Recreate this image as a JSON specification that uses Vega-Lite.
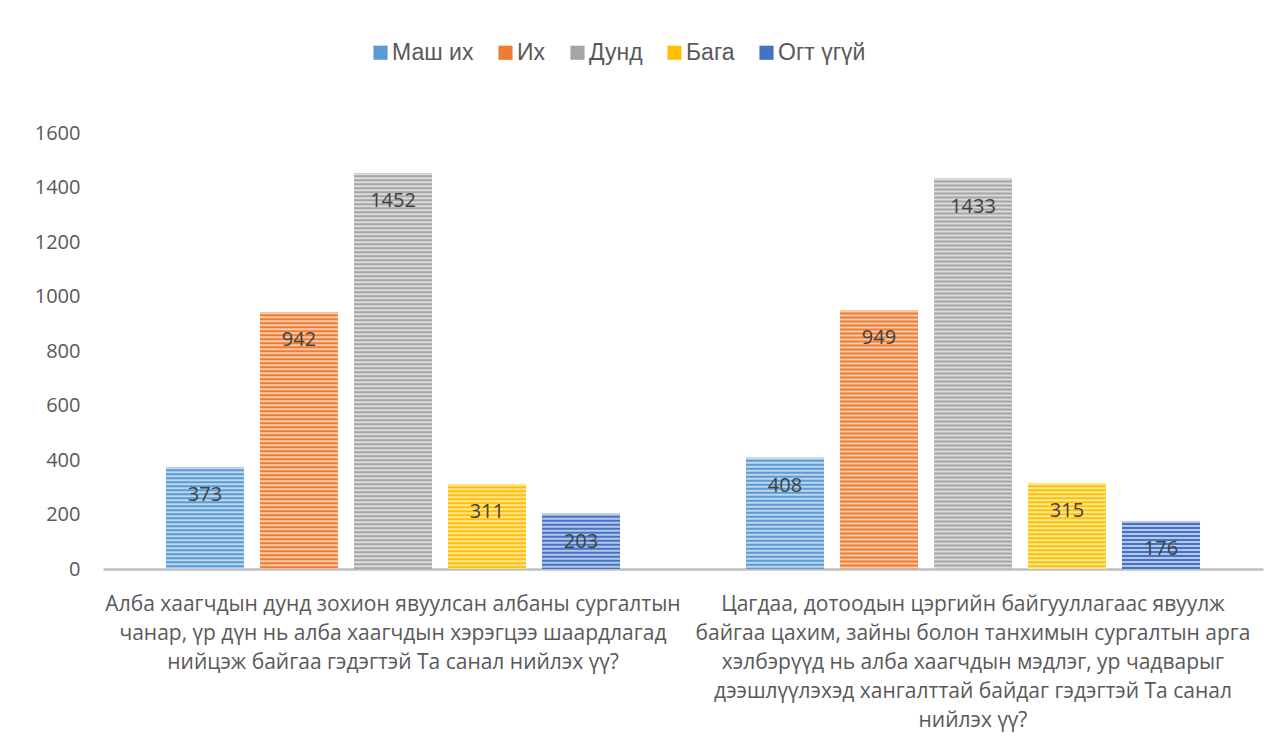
{
  "$schema": "https://vega.github.io/schema/vega-lite/v6.json",
  "autosize": {"type": "none"},
  "width": 1160,
  "height": 436,
  "padding": {"left": 103, "top": 133, "right": 24, "bottom": 176},
  "background": "white",
  "config": {"view": {"stroke": null}},
  "data": {
    "values": [
      {"question": "Алба хаагчдын дунд зохион явуулсан албаны сургалтын|чанар, үр дүн нь алба хаагчдын хэрэгцээ шаардлагад|нийцэж байгаа гэдэгтэй Та санал нийлэх үү?", "series": "Маш их", "value": 373},
      {"question": "Алба хаагчдын дунд зохион явуулсан албаны сургалтын|чанар, үр дүн нь алба хаагчдын хэрэгцээ шаардлагад|нийцэж байгаа гэдэгтэй Та санал нийлэх үү?", "series": "Их", "value": 942},
      {"question": "Алба хаагчдын дунд зохион явуулсан албаны сургалтын|чанар, үр дүн нь алба хаагчдын хэрэгцээ шаардлагад|нийцэж байгаа гэдэгтэй Та санал нийлэх үү?", "series": "Дунд", "value": 1452},
      {"question": "Алба хаагчдын дунд зохион явуулсан албаны сургалтын|чанар, үр дүн нь алба хаагчдын хэрэгцээ шаардлагад|нийцэж байгаа гэдэгтэй Та санал нийлэх үү?", "series": "Бага", "value": 311},
      {"question": "Алба хаагчдын дунд зохион явуулсан албаны сургалтын|чанар, үр дүн нь алба хаагчдын хэрэгцээ шаардлагад|нийцэж байгаа гэдэгтэй Та санал нийлэх үү?", "series": "Огт үгүй", "value": 203},
      {"question": "Цагдаа, дотоодын цэргийн байгууллагаас  явуулж|байгаа цахим, зайны болон танхимын сургалтын арга|хэлбэрүүд нь  алба хаагчдын мэдлэг, ур чадварыг|дээшлүүлэхэд хангалттай байдаг гэдэгтэй Та санал|нийлэх үү?", "series": "Маш их", "value": 408},
      {"question": "Цагдаа, дотоодын цэргийн байгууллагаас  явуулж|байгаа цахим, зайны болон танхимын сургалтын арга|хэлбэрүүд нь  алба хаагчдын мэдлэг, ур чадварыг|дээшлүүлэхэд хангалттай байдаг гэдэгтэй Та санал|нийлэх үү?", "series": "Их", "value": 949},
      {"question": "Цагдаа, дотоодын цэргийн байгууллагаас  явуулж|байгаа цахим, зайны болон танхимын сургалтын арга|хэлбэрүүд нь  алба хаагчдын мэдлэг, ур чадварыг|дээшлүүлэхэд хангалттай байдаг гэдэгтэй Та санал|нийлэх үү?", "series": "Дунд", "value": 1433},
      {"question": "Цагдаа, дотоодын цэргийн байгууллагаас  явуулж|байгаа цахим, зайны болон танхимын сургалтын арга|хэлбэрүүд нь  алба хаагчдын мэдлэг, ур чадварыг|дээшлүүлэхэд хангалттай байдаг гэдэгтэй Та санал|нийлэх үү?", "series": "Бага", "value": 315},
      {"question": "Цагдаа, дотоодын цэргийн байгууллагаас  явуулж|байгаа цахим, зайны болон танхимын сургалтын арга|хэлбэрүүд нь  алба хаагчдын мэдлэг, ур чадварыг|дээшлүүлэхэд хангалттай байдаг гэдэгтэй Та санал|нийлэх үү?", "series": "Огт үгүй", "value": 176}
    ]
  },
  "encoding": {
    "x": {
      "field": "question", "type": "nominal", "sort": null,
      "scale": {"paddingInner": 0, "paddingOuter": 0},
      "axis": {
        "title": null, "labelAngle": 0, "ticks": false,
        "domainColor": "#BFBFBF", "domainWidth": 2.5,
        "labelExpr": "split(datum.value, '|')",
        "labelFont": "Open Sans", "labelFontSize": 21, "labelColor": "#595959",
        "labelLineHeight": 29, "labelPadding": 24, "labelLimit": 2000,
        "labelAlign": "center", "labelBaseline": "top"
      }
    },
    "xOffset": {
      "field": "series", "type": "nominal", "sort": ["Маш их", "Их", "Дунд", "Бага", "Огт үгүй"],
      "scale": {"paddingInner": 0.17, "paddingOuter": 0.67}
    },
    "y": {
      "field": "value", "type": "quantitative",
      "scale": {"domain": [0, 1600], "nice": false},
      "axis": {
        "title": null, "values": [0, 200, 400, 600, 800, 1000, 1200, 1400, 1600],
        "format": "d",
        "grid": false, "domain": false, "ticks": false,
        "labelFont": "Open Sans", "labelFontSize": 20, "labelColor": "#595959",
        "labelPadding": 23
      }
    }
  },
  "layer": [
    {
      "mark": {"type": "bar"},
      "encoding": {
        "color": {
          "field": "series", "type": "nominal", "sort": ["Маш их", "Их", "Дунд", "Бага", "Огт үгүй"],
          "scale": {"domain": ["Маш их", "Их", "Дунд", "Бага", "Огт үгүй"], "range": ["#5B9BD5", "#ED7D31", "#A5A5A5", "#FFC000", "#4472C4"]},
          "legend": {
            "title": null, "orient": "none", "direction": "horizontal",
            "legendX": 266, "legendY": -92,
            "symbolType": "square", "symbolSize": 200, "symbolStrokeWidth": 0,
            "labelFont": "Liberation Sans", "labelFontSize": 23, "labelColor": "#595959",
            "labelOffset": 0, "columnPadding": 20, "labelLimit": 500
          }
        }
      }
    },
    {
      "mark": {"type": "rule", "strokeWidth": 78, "strokeDash": [2, 2], "strokeCap": "butt"},
      "encoding": {
        "y2": {"datum": 0},
        "stroke": {
          "field": "series", "type": "nominal",
          "scale": {"domain": ["Маш их", "Их", "Дунд", "Бага", "Огт үгүй"], "range": ["#BDD7EE", "#F8CBAD", "#DBDBDB", "#FFE699", "#B4C7E7"]},
          "legend": null
        }
      }
    },
    {
      "mark": {"type": "text", "dy": 28, "baseline": "middle", "align": "center", "font": "Open Sans", "fontSize": 20, "color": "#404040"},
      "encoding": {
        "text": {"field": "value", "type": "quantitative"}
      }
    }
  ]
}
